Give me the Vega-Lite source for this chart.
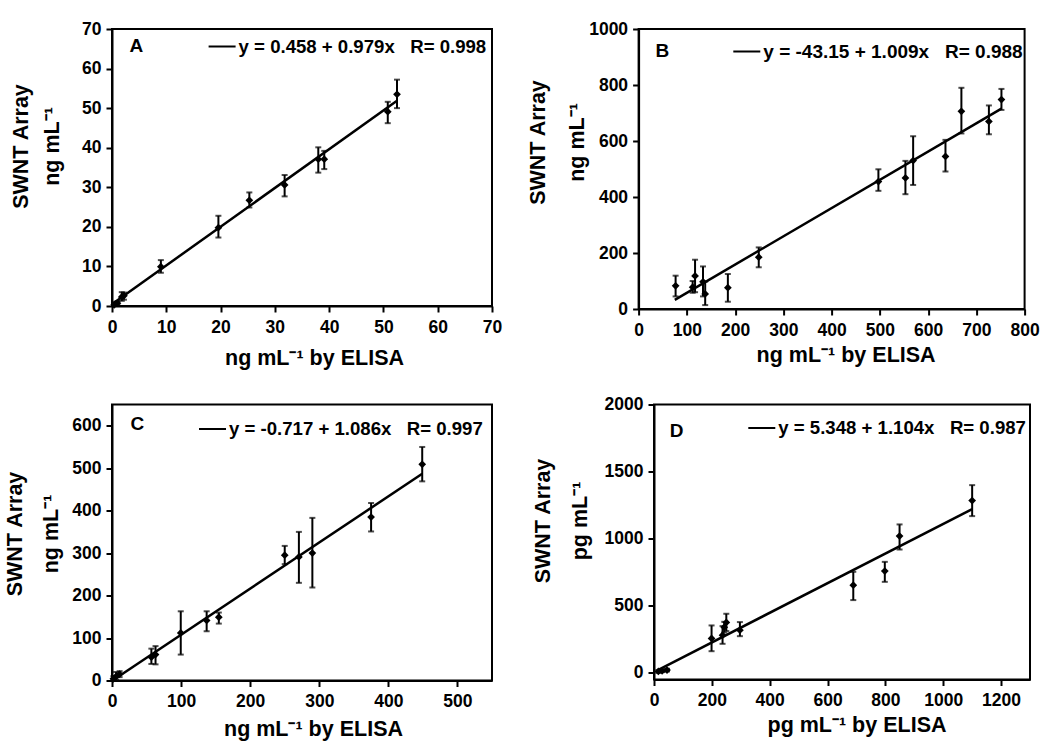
{
  "$schema": "https://vega.github.io/schema/vega-lite/v6.json",
  "background": "white",
  "padding": {"left": 3, "top": 19, "right": 0, "bottom": 0},
  "datasets": {
    "a": [
      {"x": 0.4, "y": 0.3, "lo": 0.0, "hi": 0.8},
      {"x": 1.0, "y": 0.7, "lo": 0.2, "hi": 1.2},
      {"x": 1.8, "y": 2.3, "lo": 1.3, "hi": 3.5},
      {"x": 2.2, "y": 2.6, "lo": 1.6, "hi": 3.4},
      {"x": 9.0, "y": 9.95, "lo": 8.4, "hi": 11.6},
      {"x": 19.6, "y": 19.8, "lo": 17.3, "hi": 22.8},
      {"x": 25.3, "y": 26.7, "lo": 24.9, "hi": 28.7},
      {"x": 31.8, "y": 30.6, "lo": 27.7, "hi": 33.1},
      {"x": 38.0, "y": 37.1, "lo": 33.7, "hi": 40.1},
      {"x": 39.1, "y": 37.1, "lo": 34.6, "hi": 39.2},
      {"x": 50.8, "y": 49.1, "lo": 46.2, "hi": 51.6},
      {"x": 52.5, "y": 53.5, "lo": 50.0, "hi": 57.2}
    ],
    "a_fit": [
      {"x": 0.3, "y": 0.75, "eq": "y = 0.458 + 0.979x\u00a0\u00a0\u00a0R= 0.998"},
      {"x": 52.5, "y": 51.86, "eq": "y = 0.458 + 0.979x\u00a0\u00a0\u00a0R= 0.998"}
    ],
    "b": [
      {"x": 76.7, "y": 83, "lo": 45, "hi": 119},
      {"x": 112, "y": 78, "lo": 58, "hi": 100},
      {"x": 117, "y": 118, "lo": 60, "hi": 176},
      {"x": 133.5, "y": 97, "lo": 45, "hi": 152},
      {"x": 138, "y": 54, "lo": 14, "hi": 98},
      {"x": 185, "y": 76, "lo": 26, "hi": 125},
      {"x": 249, "y": 185, "lo": 149, "hi": 220},
      {"x": 497, "y": 455, "lo": 422, "hi": 499},
      {"x": 553, "y": 468, "lo": 410, "hi": 529},
      {"x": 569, "y": 530, "lo": 443, "hi": 617},
      {"x": 636, "y": 545, "lo": 491, "hi": 604},
      {"x": 669, "y": 706, "lo": 627, "hi": 790},
      {"x": 726, "y": 670, "lo": 624, "hi": 727},
      {"x": 752, "y": 748, "lo": 711, "hi": 786}
    ],
    "b_fit": [
      {"x": 75, "y": 32.5, "eq": "y = -43.15 + 1.009x\u00a0\u00a0\u00a0R= 0.988"},
      {"x": 752, "y": 715.6, "eq": "y = -43.15 + 1.009x\u00a0\u00a0\u00a0R= 0.988"}
    ],
    "c": [
      {"x": 2, "y": 4, "lo": 0, "hi": 10},
      {"x": 6, "y": 10, "lo": 2, "hi": 20},
      {"x": 11, "y": 15, "lo": 8, "hi": 22},
      {"x": 57, "y": 55, "lo": 39, "hi": 75},
      {"x": 63, "y": 61, "lo": 38, "hi": 81},
      {"x": 99.5, "y": 112, "lo": 61, "hi": 163},
      {"x": 137, "y": 141.5, "lo": 116, "hi": 163},
      {"x": 154.6, "y": 149, "lo": 134, "hi": 160},
      {"x": 250, "y": 295, "lo": 274, "hi": 317},
      {"x": 270.5, "y": 291, "lo": 230, "hi": 350},
      {"x": 290, "y": 300, "lo": 219, "hi": 383},
      {"x": 375, "y": 385, "lo": 351, "hi": 418},
      {"x": 449, "y": 509, "lo": 469, "hi": 550}
    ],
    "c_fit": [
      {"x": 0.8, "y": 0.15, "eq": "y = -0.717 + 1.086x\u00a0\u00a0\u00a0R= 0.997"},
      {"x": 449, "y": 486.9, "eq": "y = -0.717 + 1.086x\u00a0\u00a0\u00a0R= 0.997"}
    ],
    "d": [
      {"x": 15, "y": 10, "lo": 0, "hi": 20},
      {"x": 28, "y": 15, "lo": 5, "hi": 25},
      {"x": 45, "y": 20, "lo": 10, "hi": 30},
      {"x": 199, "y": 256, "lo": 161, "hi": 353},
      {"x": 237, "y": 280, "lo": 216, "hi": 348},
      {"x": 243, "y": 340, "lo": 300, "hi": 380},
      {"x": 250, "y": 375, "lo": 311, "hi": 440},
      {"x": 297, "y": 318, "lo": 273, "hi": 378},
      {"x": 689, "y": 653, "lo": 542, "hi": 753},
      {"x": 798, "y": 758, "lo": 678, "hi": 827},
      {"x": 849, "y": 1019, "lo": 919, "hi": 1106},
      {"x": 1100, "y": 1284, "lo": 1168, "hi": 1399}
    ],
    "d_fit": [
      {"x": 15, "y": 21.9, "eq": "y = 5.348 + 1.104x\u00a0\u00a0\u00a0R= 0.987"},
      {"x": 1100, "y": 1219.7, "eq": "y = 5.348 + 1.104x\u00a0\u00a0\u00a0R= 0.987"}
    ]
  },
  "vconcat": [
    {
      "hconcat": [
        {
          "width": 380, "height": 277,
          "title": {"text": "A", "anchor": "start", "frame": "group", "offset": -51, "dx": 17.5, "baseline": "alphabetic", "fontSize": 19, "font": "Liberation Sans", "fontWeight": "bold", "color": "black"},
          "encoding": {
            "x": {"field": "x", "type": "quantitative", "scale": {"domain": [0, 70], "nice": false, "zero": false},
              "axis": {"values": [0, 10, 20, 30, 40, 50, 60, 70], "title": "ng mL\u207b\u00b9 by ELISA", "minExtent": 25, "maxExtent": 25, "titlePadding": 16, "titleX": 202}}
          },
          "layer": [
            {"data": {"name": "a"},
             "mark": {"type": "errorbar", "ticks": {"size": 6, "thickness": 2, "color": "black"}, "rule": {"strokeWidth": 2, "color": "black"}},
             "encoding": {
               "y": {"field": "lo", "type": "quantitative", "scale": {"domain": [0, 70], "nice": false, "zero": false},
                 "axis": {"values": [0, 10, 20, 30, 40, 50, 60, 70], "title": ["SWNT Array", "ng mL\u207b\u00b9"], "minExtent": 30, "maxExtent": 30, "titlePadding": 18.7, "titleLineHeight": 31, "titleY": 117}},
               "y2": {"field": "hi"}}},
            {"data": {"name": "a"},
             "mark": {"type": "point", "shape": "diamond", "filled": true, "size": 60, "color": "black", "opacity": 1},
             "encoding": {"y": {"field": "y", "type": "quantitative", "scale": {"domain": [0, 70], "nice": false, "zero": false},
                 "axis": {"values": [0, 10, 20, 30, 40, 50, 60, 70], "title": ["SWNT Array", "ng mL\u207b\u00b9"], "minExtent": 30, "maxExtent": 30, "titlePadding": 18.7, "titleLineHeight": 31, "titleY": 117}}}},
            {"data": {"name": "a_fit"},
             "mark": {"type": "line", "strokeWidth": 2.5},
             "encoding": {"y": {"field": "y", "type": "quantitative", "scale": {"domain": [0, 70], "nice": false, "zero": false},
                 "axis": {"values": [0, 10, 20, 30, 40, 50, 60, 70], "title": ["SWNT Array", "ng mL\u207b\u00b9"], "minExtent": 30, "maxExtent": 30, "titlePadding": 18.7, "titleLineHeight": 31, "titleY": 117}},
               "color": {"field": "eq", "type": "nominal", "scale": {"range": ["black"]}, "legend": {"orient": "none", "legendX": 95.6, "legendY": 3, "labelFontSize": 18.6}}}}
          ]
        },
        {
          "width": 386, "height": 280,
          "title": {"text": "B", "anchor": "start", "frame": "group", "offset": -56, "dx": 17, "baseline": "alphabetic", "fontSize": 19, "font": "Liberation Sans", "fontWeight": "bold", "color": "black"},
          "encoding": {
            "x": {"field": "x", "type": "quantitative", "scale": {"domain": [0, 800], "nice": false, "zero": false},
              "axis": {"values": [0, 100, 200, 300, 400, 500, 600, 700, 800], "title": "ng mL\u207b\u00b9 by ELISA", "minExtent": 25, "maxExtent": 25, "titlePadding": 10, "titleX": 207}}
          },
          "layer": [
            {"data": {"name": "b"},
             "mark": {"type": "errorbar", "ticks": {"size": 6, "thickness": 2, "color": "black"}, "rule": {"strokeWidth": 2, "color": "black"}},
             "encoding": {
               "y": {"field": "lo", "type": "quantitative", "scale": {"domain": [0, 1000], "nice": false, "zero": false},
                 "axis": {"values": [0, 200, 400, 600, 800, 1000], "title": ["SWNT Array", "ng mL\u207b\u00b9"], "minExtent": 30, "maxExtent": 30, "titlePadding": 19.8, "titleLineHeight": 39, "titleY": 113}},
               "y2": {"field": "hi"}}},
            {"data": {"name": "b"},
             "mark": {"type": "point", "shape": "diamond", "filled": true, "size": 60, "color": "black", "opacity": 1},
             "encoding": {"y": {"field": "y", "type": "quantitative", "scale": {"domain": [0, 1000], "nice": false, "zero": false},
                 "axis": {"values": [0, 200, 400, 600, 800, 1000], "title": ["SWNT Array", "ng mL\u207b\u00b9"], "minExtent": 30, "maxExtent": 30, "titlePadding": 19.8, "titleLineHeight": 39, "titleY": 113}}}},
            {"data": {"name": "b_fit"},
             "mark": {"type": "line", "strokeWidth": 2.5},
             "encoding": {"y": {"field": "y", "type": "quantitative", "scale": {"domain": [0, 1000], "nice": false, "zero": false},
                 "axis": {"values": [0, 200, 400, 600, 800, 1000], "title": ["SWNT Array", "ng mL\u207b\u00b9"], "minExtent": 30, "maxExtent": 30, "titlePadding": 19.8, "titleLineHeight": 39, "titleY": 113}},
               "color": {"field": "eq", "type": "nominal", "scale": {"range": ["black"]}, "legend": {"orient": "none", "legendX": 93.7, "legendY": 8, "labelFontSize": 19}}}}
          ]
        }
      ],
      "spacing": 23.6,
      "resolve": {"scale": {"color": "independent", "x": "independent", "y": "independent"}, "legend": {"color": "independent"}}
    },
    {
      "hconcat": [
        {
          "width": 380, "height": 276,
          "title": {"text": "C", "anchor": "start", "frame": "group", "offset": -44, "dx": 18.5, "baseline": "alphabetic", "fontSize": 19, "font": "Liberation Sans", "fontWeight": "bold", "color": "black"},
          "encoding": {
            "x": {"field": "x", "type": "quantitative", "scale": {"domain": [0, 550], "nice": false, "zero": false},
              "axis": {"values": [0, 100, 200, 300, 400, 500], "title": "ng mL\u207b\u00b9 by ELISA", "minExtent": 25, "maxExtent": 25, "titlePadding": 13.4, "titleX": 201}}
          },
          "layer": [
            {"data": {"name": "c"},
             "mark": {"type": "errorbar", "ticks": {"size": 6, "thickness": 2, "color": "black"}, "rule": {"strokeWidth": 2, "color": "black"}},
             "encoding": {
               "y": {"field": "lo", "type": "quantitative", "scale": {"domain": [0, 650], "nice": false, "zero": false},
                 "axis": {"values": [0, 100, 200, 300, 400, 500, 600], "title": ["SWNT Array", "ng mL\u207b\u00b9"], "minExtent": 30, "maxExtent": 30, "titlePadding": 19.5, "titleLineHeight": 36, "titleY": 129}},
               "y2": {"field": "hi"}}},
            {"data": {"name": "c"},
             "mark": {"type": "point", "shape": "diamond", "filled": true, "size": 60, "color": "black", "opacity": 1},
             "encoding": {"y": {"field": "y", "type": "quantitative", "scale": {"domain": [0, 650], "nice": false, "zero": false},
                 "axis": {"values": [0, 100, 200, 300, 400, 500, 600], "title": ["SWNT Array", "ng mL\u207b\u00b9"], "minExtent": 30, "maxExtent": 30, "titlePadding": 19.5, "titleLineHeight": 36, "titleY": 129}}}},
            {"data": {"name": "c_fit"},
             "mark": {"type": "line", "strokeWidth": 2.5},
             "encoding": {"y": {"field": "y", "type": "quantitative", "scale": {"domain": [0, 650], "nice": false, "zero": false},
                 "axis": {"values": [0, 100, 200, 300, 400, 500, 600], "title": ["SWNT Array", "ng mL\u207b\u00b9"], "minExtent": 30, "maxExtent": 30, "titlePadding": 19.5, "titleLineHeight": 36, "titleY": 129}},
               "color": {"field": "eq", "type": "nominal", "scale": {"range": ["black"]}, "legend": {"orient": "none", "legendX": 86, "legendY": 10, "labelFontSize": 18.6}}}}
          ]
        },
        {
          "width": 376, "height": 275,
          "title": {"text": "D", "anchor": "start", "frame": "group", "offset": -60, "dx": 15.7, "baseline": "alphabetic", "fontSize": 19, "font": "Liberation Sans", "fontWeight": "bold", "color": "black"},
          "encoding": {
            "x": {"field": "x", "type": "quantitative", "scale": {"domain": [0, 1300], "nice": false, "zero": false},
              "axis": {"values": [0, 200, 400, 600, 800, 1000, 1200], "title": "pg mL\u207b\u00b9 by ELISA", "minExtent": 25, "maxExtent": 25, "titlePadding": 9.7, "titleX": 202.5}}
          },
          "layer": [
            {"data": {"name": "d"},
             "mark": {"type": "errorbar", "ticks": {"size": 6, "thickness": 2, "color": "black"}, "rule": {"strokeWidth": 2, "color": "black"}},
             "encoding": {
               "y": {"field": "lo", "type": "quantitative", "scale": {"domain": [-50, 2000], "nice": false, "zero": false},
                 "axis": {"values": [0, 500, 1000, 1500, 2000], "title": ["SWNT Array", "pg mL\u207b\u00b9"], "minExtent": 30, "maxExtent": 30, "titlePadding": 32.5, "titleLineHeight": 37, "titleY": 116}},
               "y2": {"field": "hi"}}},
            {"data": {"name": "d"},
             "mark": {"type": "point", "shape": "diamond", "filled": true, "size": 60, "color": "black", "opacity": 1},
             "encoding": {"y": {"field": "y", "type": "quantitative", "scale": {"domain": [-50, 2000], "nice": false, "zero": false},
                 "axis": {"values": [0, 500, 1000, 1500, 2000], "title": ["SWNT Array", "pg mL\u207b\u00b9"], "minExtent": 30, "maxExtent": 30, "titlePadding": 32.5, "titleLineHeight": 37, "titleY": 116}}}},
            {"data": {"name": "d_fit"},
             "mark": {"type": "line", "strokeWidth": 2.5},
             "encoding": {"y": {"field": "y", "type": "quantitative", "scale": {"domain": [-50, 2000], "nice": false, "zero": false},
                 "axis": {"values": [0, 500, 1000, 1500, 2000], "title": ["SWNT Array", "pg mL\u207b\u00b9"], "minExtent": 30, "maxExtent": 30, "titlePadding": 32.5, "titleLineHeight": 37, "titleY": 116}},
               "color": {"field": "eq", "type": "nominal", "scale": {"range": ["black"]}, "legend": {"orient": "none", "legendX": 93.3, "legendY": 9, "labelFontSize": 18.6}}}}
          ]
        }
      ],
      "spacing": 38,
      "resolve": {"scale": {"color": "independent", "x": "independent", "y": "independent"}, "legend": {"color": "independent"}}
    }
  ],
  "spacing": 24.5,
  "resolve": {"scale": {"color": "independent", "x": "independent", "y": "independent"}, "legend": {"color": "independent"}},
  "config": {
    "font": "Liberation Sans",
    "numberFormat": "d",
    "view": {"stroke": "black", "strokeWidth": 2},
    "axis": {
      "grid": false,
      "labelFont": "Liberation Sans", "labelFontWeight": "bold", "labelFontSize": 17.5, "labelColor": "black",
      "titleFont": "Liberation Sans", "titleFontWeight": "bold", "titleFontSize": 21.5, "titleColor": "black",
      "domainColor": "black", "domainWidth": 2, "tickColor": "black", "tickWidth": 2, "tickSize": 6
    },
    "axisX": {"labelPadding": 6, "labelFlush": false, "labelOverlap": false},
    "axisY": {"labelPadding": 5, "labelOverlap": false},
    "legend": {
      "title": null, "padding": 0,
      "symbolType": "stroke", "symbolStrokeColor": "black", "symbolStrokeWidth": 2, "symbolSize": 729,
      "labelFont": "Liberation Sans", "labelFontWeight": "bold", "labelFontSize": 19, "labelColor": "black",
      "labelLimit": 0, "labelOffset": 2
    }
  }
}
